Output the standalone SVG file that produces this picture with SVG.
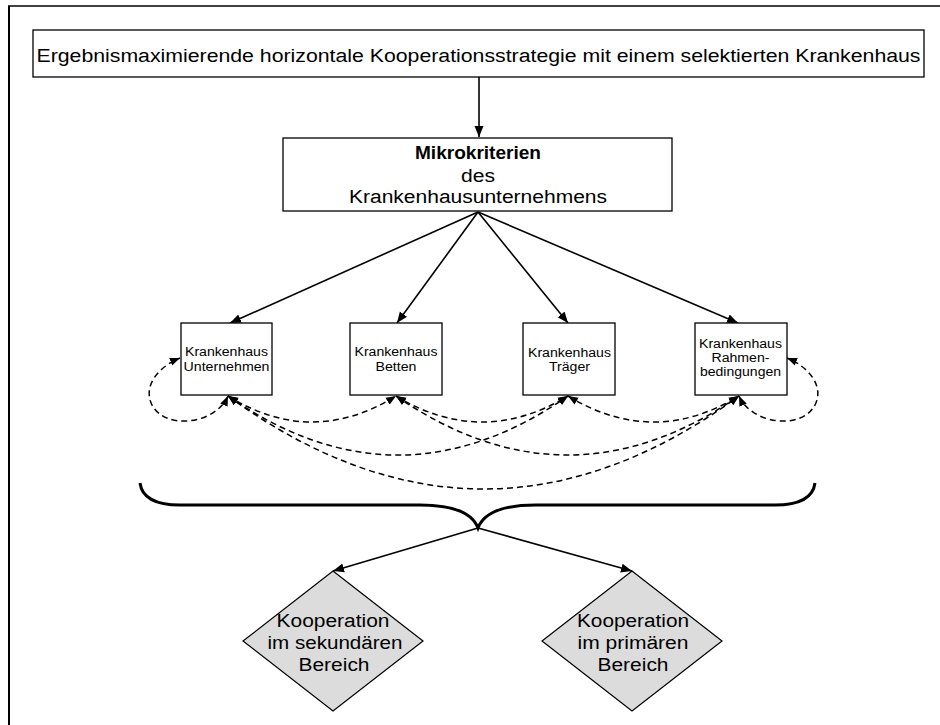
<svg xmlns="http://www.w3.org/2000/svg" width="940" height="725" viewBox="0 0 940 725">
<style>
  text { font-family: "Liberation Sans", Arial, sans-serif; fill: #000; text-anchor: middle; }
  .box { fill: #fff; stroke: #000; stroke-width: 1.3; }
  .dia { fill: #dcdcdc; stroke: #000; stroke-width: 1.2; }
  .solid { fill: none; stroke: #000; stroke-width: 1.6; }
  .dash { fill: none; stroke: #000; stroke-width: 1.5; stroke-dasharray: 6 4; }
  .t18 { font-size: 18px; }
  .t12 { font-size: 12px; }
</style>
<defs>
  <marker id="arr" markerUnits="userSpaceOnUse" markerWidth="12" markerHeight="10" refX="11" refY="5" orient="auto">
    <path d="M0,0.5 L11,5 L0,9.5 z" fill="#000"/>
  </marker>
  <marker id="darr" markerUnits="userSpaceOnUse" markerWidth="11" markerHeight="9" refX="10" refY="4.5" orient="auto-start-reverse">
    <path d="M0,0.5 L10,4.5 L0,8.5 z" fill="#000"/>
  </marker>
</defs>
<rect width="940" height="725" fill="#fff"/>
<g id="frame">
  <path d="M9,725 V6" stroke="#000" stroke-width="2" fill="none"/>
  <path d="M8,6 H940" stroke="#000" stroke-width="1.5" fill="none"/>
</g>
<g id="connectors">
  <path class="solid" d="M479,77 V137" marker-end="url(#arr)"/>
  <path class="solid" d="M478,212 L230,323" marker-end="url(#arr)"/>
  <path class="solid" d="M478,212 L397,323" marker-end="url(#arr)"/>
  <path class="solid" d="M478,212 L568,323" marker-end="url(#arr)"/>
  <path class="solid" d="M478,212 L738,323" marker-end="url(#arr)"/>
  <path class="dash" d="M228,396 Q312,448 396,396" marker-start="url(#darr)" marker-end="url(#darr)"/>
  <path class="dash" d="M396,396 Q482,448 568,396" marker-start="url(#darr)" marker-end="url(#darr)"/>
  <path class="dash" d="M568,396 Q653.5,448 739,396" marker-start="url(#darr)" marker-end="url(#darr)"/>
  <path class="dash" d="M228,396 Q398,514 568,396" marker-start="url(#darr)" marker-end="url(#darr)"/>
  <path class="dash" d="M396,396 Q567.5,514 739,396" marker-start="url(#darr)" marker-end="url(#darr)"/>
  <path class="dash" d="M228,396 Q483.5,582 739,396" marker-start="url(#darr)" marker-end="url(#darr)"/>
  <path class="dash" d="M228,396 C215,425 165,430 152,405 C142,385 160,366 180,358" marker-start="url(#darr)" marker-end="url(#darr)"/>
  <path class="dash" d="M739,396 C752,425 802,430 815,405 C825,385 807,366 787,358" marker-start="url(#darr)" marker-end="url(#darr)"/>
  <path d="M140,483 C142,498 155,505 180,505 L420,505 C450,505 472,512 478,528 C484,512 506,505 536,505 L775,505 C800,505 813,498 815,483" fill="none" stroke="#000" stroke-width="3"/>
  <path class="solid" d="M478,528 L333,571" marker-end="url(#arr)"/>
  <path class="solid" d="M478,528 L632,571" marker-end="url(#arr)"/>
</g>
<g id="top">
  <rect class="box" x="33" y="30" width="891" height="47"/>
  <text class="t18" x="478.5" y="62" textLength="884" lengthAdjust="spacingAndGlyphs">Ergebnismaximierende horizontale Kooperationsstrategie mit einem selektierten Krankenhaus</text>
</g>
<g id="mikro">
  <rect class="box" x="283" y="138" width="389" height="73"/>
  <text class="t18" x="478" y="159" font-weight="bold" textLength="126" lengthAdjust="spacingAndGlyphs">Mikrokriterien</text>
  <text class="t18" x="478" y="182" textLength="34" lengthAdjust="spacingAndGlyphs">des</text>
  <text class="t18" x="478" y="203" textLength="258" lengthAdjust="spacingAndGlyphs">Krankenhausunternehmens</text>
</g>
<g id="unternehmen">
  <rect class="box" x="181" y="323" width="91" height="72"/>
  <text class="t12" x="226.5" y="356" textLength="83" lengthAdjust="spacingAndGlyphs">Krankenhaus</text>
  <text class="t12" x="226.5" y="371" textLength="86" lengthAdjust="spacingAndGlyphs">Unternehmen</text>
</g>
<g id="betten">
  <rect class="box" x="350" y="323" width="92" height="72"/>
  <text class="t12" x="396" y="356" textLength="83" lengthAdjust="spacingAndGlyphs">Krankenhaus</text>
  <text class="t12" x="396" y="371" textLength="41" lengthAdjust="spacingAndGlyphs">Betten</text>
</g>
<g id="traeger">
  <rect class="box" x="523" y="323" width="92" height="72"/>
  <text class="t12" x="569.5" y="357" textLength="83" lengthAdjust="spacingAndGlyphs">Krankenhaus</text>
  <text class="t12" x="569.5" y="371" textLength="41" lengthAdjust="spacingAndGlyphs">Träger</text>
</g>
<g id="rahmen">
  <rect class="box" x="695" y="323" width="92" height="72"/>
  <text class="t12" x="740.5" y="348" textLength="83" lengthAdjust="spacingAndGlyphs">Krankenhaus</text>
  <text class="t12" x="740.5" y="362" textLength="58" lengthAdjust="spacingAndGlyphs">Rahmen-</text>
  <text class="t12" x="740.5" y="376" textLength="81" lengthAdjust="spacingAndGlyphs">bedingungen</text>
</g>
<g id="sekundaer">
  <polygon class="dia" points="333,571 423,641 333,711 243,641"/>
  <text class="t18" x="333" y="627" textLength="113" lengthAdjust="spacingAndGlyphs">Kooperation</text>
  <text class="t18" x="335" y="649" textLength="135" lengthAdjust="spacingAndGlyphs">im sekundären</text>
  <text class="t18" x="334" y="671" textLength="71" lengthAdjust="spacingAndGlyphs">Bereich</text>
</g>
<g id="primaer">
  <polygon class="dia" points="632,571 722,641 632,711 542,641"/>
  <text class="t18" x="633" y="627" textLength="112" lengthAdjust="spacingAndGlyphs">Kooperation</text>
  <text class="t18" x="633" y="649" textLength="111" lengthAdjust="spacingAndGlyphs">im primären</text>
  <text class="t18" x="633" y="671" textLength="71" lengthAdjust="spacingAndGlyphs">Bereich</text>
</g>
</svg>
